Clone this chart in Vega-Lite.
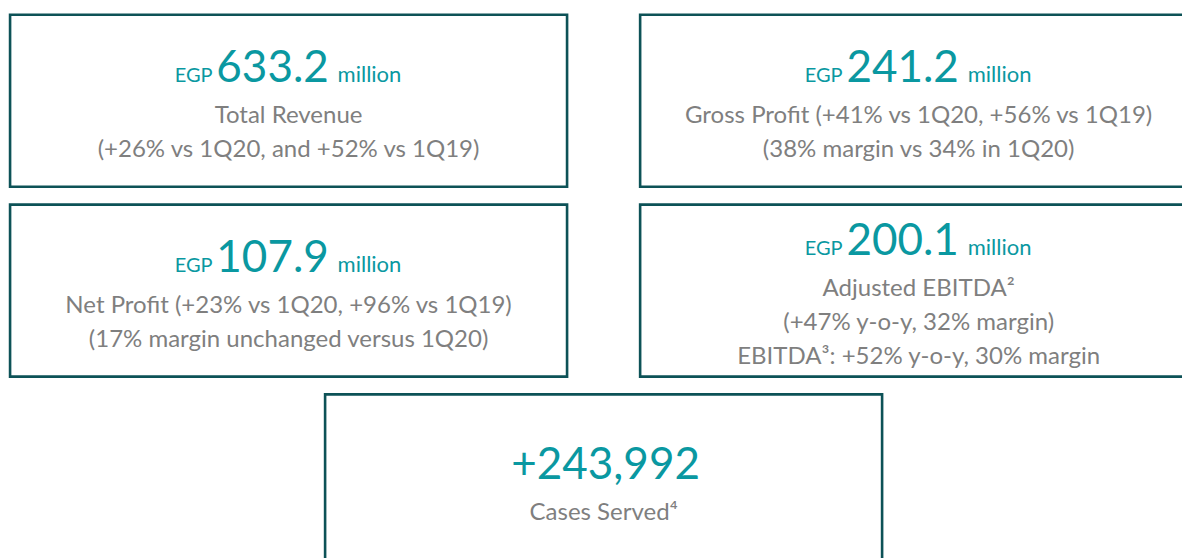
{
  "$schema": "https://vega.github.io/schema/vega-lite/v6.json",
  "width": 1182,
  "height": 558,
  "autosize": {"type": "none"},
  "padding": 0,
  "background": "white",
  "config": {"view": {"stroke": null}, "text": {"font": "Lato"}},
  "data": {
    "values": [
      {"box": "revenue", "col": 0, "row": 0, "prefix": "EGP", "value": "633.2", "unit": "million", "nlines": 2, "lines": ["Total Revenue", "(+26% vs 1Q20, and +52% vs 1Q19)"]},
      {"box": "gross", "col": 1, "row": 0, "prefix": "EGP", "value": "241.2", "unit": "million", "nlines": 2, "lines": ["Gross Profit (+41% vs 1Q20, +56% vs 1Q19)", "(38% margin vs 34% in 1Q20)"]},
      {"box": "net", "col": 0, "row": 1, "prefix": "EGP", "value": "107.9", "unit": "million", "nlines": 2, "lines": ["Net Profit (+23% vs 1Q20, +96% vs 1Q19)", "(17% margin unchanged versus 1Q20)"]},
      {"box": "ebitda", "col": 1, "row": 1, "prefix": "EGP", "value": "200.1", "unit": "million", "nlines": 3, "lines": ["Adjusted EBITDA²", "(+47% y-o-y, 32% margin)", "EBITDA³: +52% y-o-y, 30% margin"]},
      {"box": "cases", "col": 0.5, "row": 2, "prefix": null, "value": "+243,992", "unit": null, "nlines": 1, "lines": ["Cases Served⁴"]}
    ]
  },
  "encoding": {
    "x": {"field": "col", "type": "quantitative", "scale": {"domain": [-0.458, 1.418]}, "axis": null},
    "y": {"field": "row", "type": "ordinal", "scale": {"type": "band", "range": [5.9, 575.3], "paddingInner": 0, "paddingOuter": 0}, "axis": null}
  },
  "layer": [
    {
      "mark": {"type": "rect", "width": 557, "height": 172, "fill": "white", "stroke": "#0d5257", "strokeWidth": 2.6}
    },
    {
      "transform": [{"filter": "datum.unit != null"}],
      "mark": {"type": "text", "align": "center", "baseline": "alphabetic", "dx": -16, "fontSize": 44, "color": "#0a98a1"},
      "encoding": {
        "text": {"field": "value", "type": "nominal"},
        "yOffset": {"field": "nlines", "type": "quantitative", "scale": {"domain": [1, 3], "range": [93.5, 59.5]}}
      }
    },
    {
      "transform": [{"filter": "datum.unit != null"}],
      "mark": {"type": "text", "align": "right", "baseline": "alphabetic", "dx": -76, "fontSize": 20, "color": "#0a98a1"},
      "encoding": {
        "text": {"field": "prefix", "type": "nominal"},
        "yOffset": {"field": "nlines", "type": "quantitative"}
      }
    },
    {
      "transform": [{"filter": "datum.unit != null"}],
      "mark": {"type": "text", "align": "left", "baseline": "alphabetic", "dx": 49, "fontSize": 22, "color": "#0a98a1"},
      "encoding": {
        "text": {"field": "unit", "type": "nominal"},
        "yOffset": {"field": "nlines", "type": "quantitative"}
      }
    },
    {
      "transform": [{"filter": "datum.unit == null"}],
      "mark": {"type": "text", "align": "center", "baseline": "alphabetic", "dx": 2, "fontSize": 44, "color": "#0a98a1"},
      "encoding": {
        "text": {"field": "value", "type": "nominal"},
        "yOffset": {"field": "nlines", "type": "quantitative"}
      }
    },
    {
      "mark": {"type": "text", "align": "center", "baseline": "alphabetic", "dy": 41, "fontSize": 24, "lineHeight": 34, "color": "#7f7f7f"},
      "encoding": {
        "text": {"field": "lines", "type": "nominal"},
        "yOffset": {"field": "nlines", "type": "quantitative"}
      }
    }
  ]
}
